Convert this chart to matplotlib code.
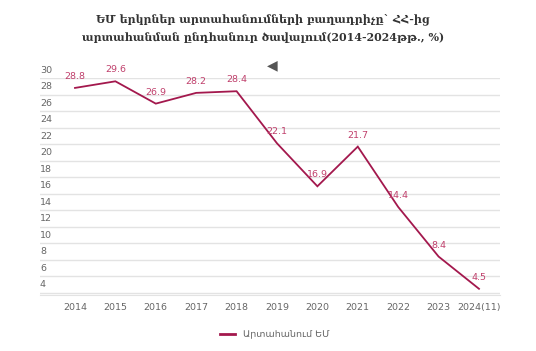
import matplotlib
matplotlib.use("Agg")
import matplotlib.pyplot as plt
from matplotlib import transforms
from matplotlib.lines import Line2D

years = ["2014", "2015", "2016", "2017", "2018", "2019", "2020", "2021", "2022", "2023", "2024(11)"]
values = [28.8, 29.6, 26.9, 28.2, 28.4, 22.1, 16.9, 21.7, 14.4, 8.4, 4.5]
yticks = [4, 6, 8, 10, 12, 14, 16, 18, 20, 22, 24, 26, 28, 30]
series_name = "Արտահանում ԵՄ"
title = "ԵՄ երկրներ արտահանումների բաղադրիչը` ՀՀ-ից\nարտահանման ընդհանուր ծավալում(2014-2024թթ., %)"

line_color = "#a3184d"
label_color = "#c0406c"
text_gray = "#666666"

fig = plt.figure(figsize=(5.36, 3.51), dpi=100)
ax = fig.add_axes([40/536, 56/351, 460/536, 217/351])

x = list(range(len(years)))
ax.plot(x, values, color=line_color, lw=1.3, solid_joinstyle="miter")
for xi, v in zip(x, values):
    ax.annotate(f"{v}", (xi, v), xytext=(0, 5), textcoords="offset points",
                ha="center", va="bottom", fontsize=6.8, color=label_color)

ax.set_xlim(-0.866, 10.52)
ax.set_ylim(3.75, 30)
ax.set_yticks(yticks)
ax.yaxis.grid(True, color="#e3e3e3", lw=1)
ax.tick_params(axis="y", length=0, labelleft=False)
trans = transforms.blended_transform_factory(ax.transAxes, ax.transData)
for t in yticks:
    ax.annotate(str(t), (0, t), xycoords=trans, xytext=(0, 2.5), textcoords="offset points",
                ha="left", va="bottom", fontsize=6.8, color=text_gray)

ax.set_xticks(x)
ax.set_xticklabels(years, fontsize=6.8, color=text_gray)
ax.tick_params(axis="x", length=0, pad=6)
for s in ax.spines.values():
    s.set_visible(False)
ax.spines["bottom"].set_visible(True)
ax.spines["bottom"].set_color("#e3e3e3")

fig.text(263/536, 1 - 28/351, title, ha="center", va="center", fontsize=7.9,
         fontweight="bold", family="DejaVu Serif", color="#333333", linespacing=1.75)
fig.text(272/536, 1 - 65/351, "◀", ha="center", va="center", fontsize=10, color="#555555")

handle = Line2D([], [], color=line_color, lw=2)
fig.legend([handle], [series_name], loc="center", bbox_to_anchor=(275/536, 1 - 335/351),
           frameon=False, fontsize=6.8, handlelength=1.6, labelcolor=text_gray)

fig.savefig("out.png", dpi=100)
